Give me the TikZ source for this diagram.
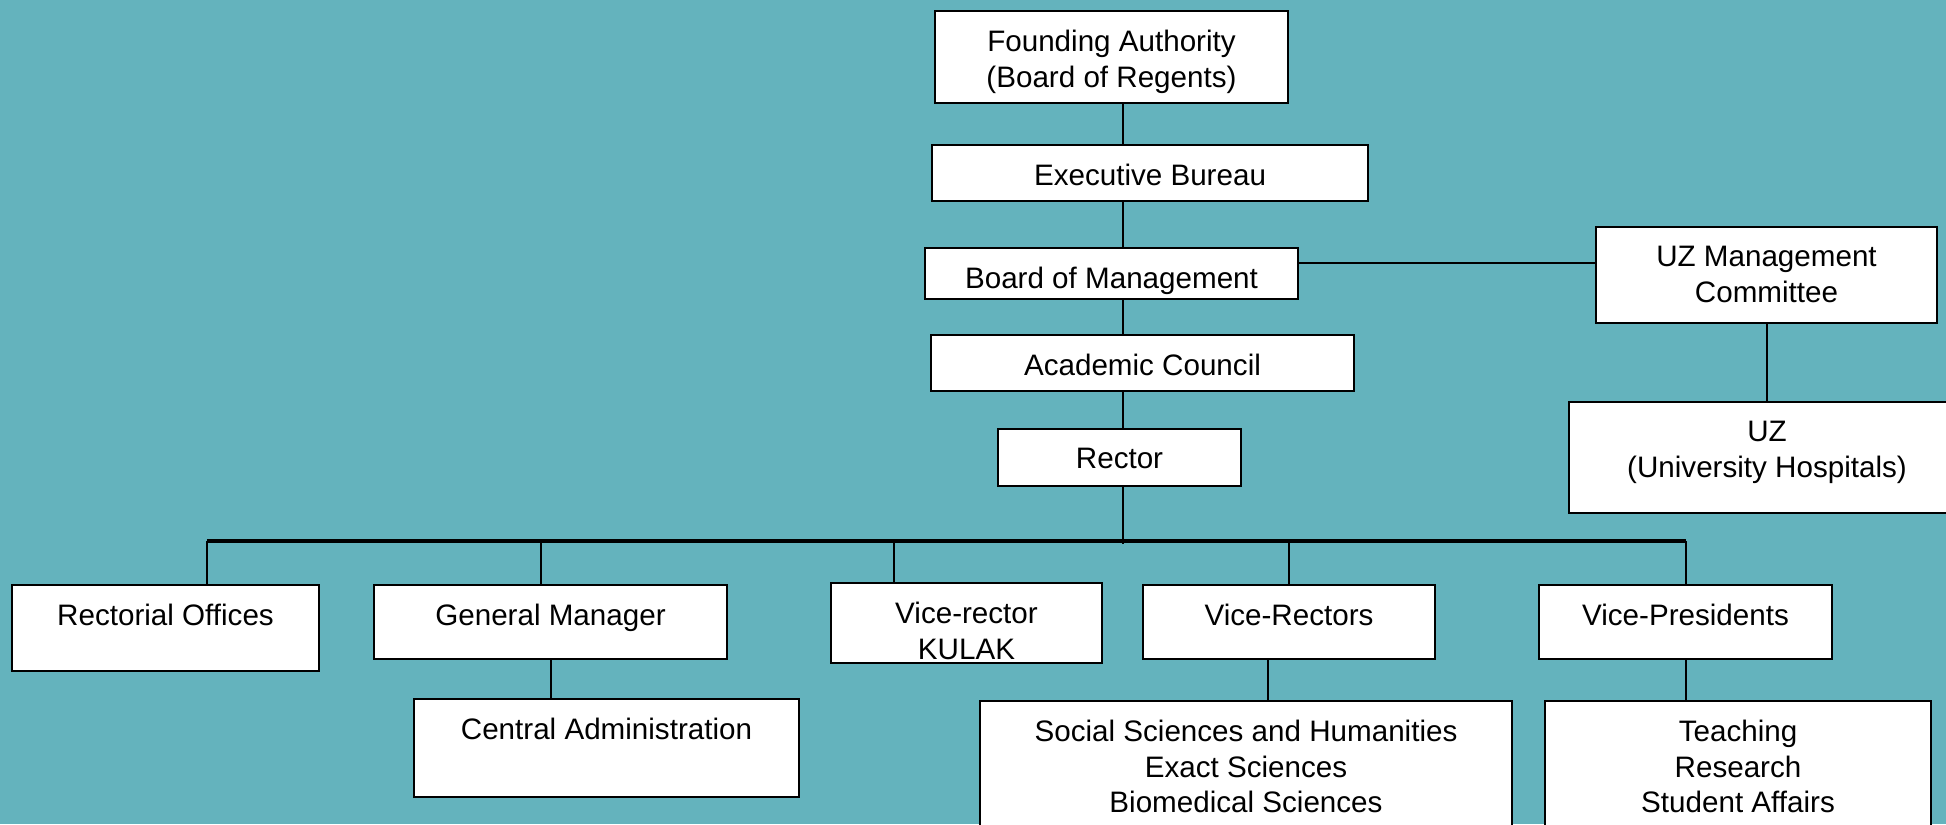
\documentclass[tikz,border=0pt]{standalone}
\usepackage{fontspec}
\setmainfont{Liberation Sans}
\usetikzlibrary{positioning,calc}
\definecolor{bgteal}{RGB}{100,179,189}
\newcommand\orgfont{\fontsize{14.8}{17.7}\selectfont}

\tikzset{
  orgbox/.style={draw=black,fill=white,line width=0.9pt,inner sep=0pt},
  orgtext/.style={anchor=north,align=center,inner sep=0pt,yshift=-10pt,font=\orgfont},
  orgline/.style={line width=1pt},
  busline/.style={line width=1.6pt}
}

\begin{document}
\begin{tikzpicture}[x=0.5pt,y=-0.5pt]

% background
\useasboundingbox (0,0) rectangle (1946,824);
\fill[bgteal] (0,0) rectangle (1946,824);
\clip (0,0) rectangle (1946,824);

% top of the chart
\node[orgbox,minimum width=176.5pt,minimum height=46pt,label={[orgtext]north:{Founding Authority\\(Board of Regents)}}] (found) at (1111.5,57) {};
\node[orgbox,minimum width=218pt,minimum height=28pt,label={[orgtext]north:Executive Bureau}] (exec) at (1150,173) {};
\node[orgbox,minimum width=186.5pt,minimum height=25.5pt,label={[orgtext]north:Board of Management}] (board) at (1111.5,273.5) {};
\node[orgbox,minimum width=211.5pt,minimum height=28pt,label={[orgtext]north:Academic Council}] (acad) at (1142.5,363) {};
\node[orgbox,minimum width=121.5pt,minimum height=28.5pt,label={[orgtext]north:Rector}] (rector) at (1119.5,457.5) {};

% hospitals
\node[orgbox,minimum width=170.5pt,minimum height=48pt,label={[orgtext]north:{UZ Management\\Committee}}] (uzman) at (1766.5,275) {};
\node[orgbox,minimum width=198pt,minimum height=55.5pt,label={[orgtext]north:{UZ\\(University Hospitals)}}] (uz) at (1767,457.5) {};

% second level
\node[orgbox,minimum width=153.5pt,minimum height=43pt,label={[orgtext]north:Rectorial Offices}] (rectoff) at (165.5,628) {};
\node[orgbox,minimum width=176.5pt,minimum height=37pt,label={[orgtext]north:General Manager}] (genman) at (550.5,622) {};
\node[orgbox,minimum width=135.5pt,minimum height=40pt,label={[orgtext]north:{Vice-rector\\KULAK}}] (kulak) at (966.5,623) {};
\node[orgbox,minimum width=146pt,minimum height=37pt,label={[orgtext]north:Vice-Rectors}] (vrect) at (1289,622) {};
\node[orgbox,minimum width=146.5pt,minimum height=37pt,label={[orgtext]north:Vice-Presidents}] (vpres) at (1685.5,622) {};

% third level
\node[orgbox,minimum width=192.5pt,minimum height=49pt,label={[orgtext]north:Central Administration}] (central) at (606.5,748) {};
\node[orgbox,minimum width=266pt,minimum height=69.5pt,label={[orgtext]north:{Social Sciences and Humanities\\Exact Sciences\\Biomedical Sciences}}] (faculties) at (1246,770.5) {};
\node[orgbox,minimum width=193pt,minimum height=69.5pt,label={[orgtext]north:{Teaching\\Research\\Student Affairs}}] (themes) at (1738,770.5) {};

% main spine
\coordinate (spine) at (1123,0);
\coordinate (bus) at (0,541);
\foreach \a/\b in {found/exec,exec/board,board/acad,acad/rector}
{
  \draw[orgline] (\a.south -| spine) -- (\b.north -| spine);
}
\draw[orgline] (rector.south -| spine) -- ([yshift=-1.5pt]spine |- bus);

% side branch
\draw[orgline] ([yshift=5.25pt]board.east) -- ([yshift=5.25pt]board.east -| uzman.west);
\draw[orgline] (uzman.south) -- (uzman.south |- uz.north);

% bus and drops
\draw[busline] ([xshift=20.75pt]rectoff.north |- bus) -- (vpres.north |- bus);
\foreach \n/\dx in {rectoff/20.75,genman/-4.75,kulak/-36.25,vrect/0,vpres/0}
{
  \draw[orgline] ([xshift=\dx pt]\n.north) -- ([xshift=\dx pt]\n.north |- bus);
}

% lower links
\draw[orgline] (genman.south) -- (genman.south |- central.north);
\draw[orgline] ([xshift=-10.5pt]vrect.south) -- ([xshift=-10.5pt]vrect.south |- faculties.north);
\draw[orgline] (vpres.south) -- (vpres.south |- themes.north);

\end{tikzpicture}
\end{document}
